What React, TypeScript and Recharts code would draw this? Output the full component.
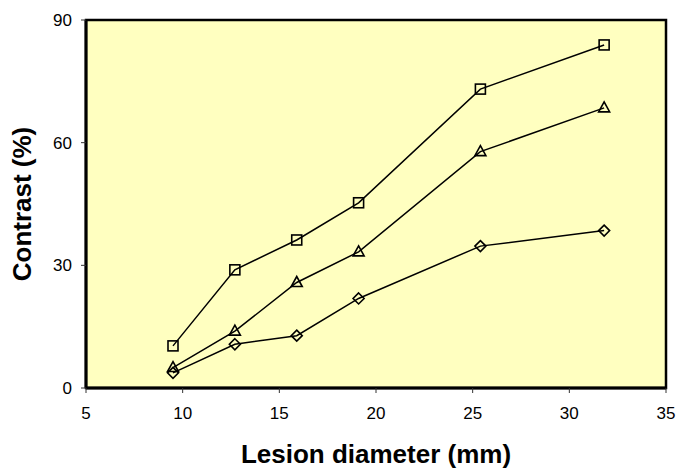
import { CartesianGrid, Line, LineChart, ReferenceArea, XAxis, YAxis } from 'recharts';

const diameters = [9.5, 12.7, 15.9, 19.1, 25.4, 31.8];
const squareSeries = [10.3, 28.9, 36.2, 45.3, 73.1, 83.9];
const triangleSeries = [5.0, 13.9, 25.8, 33.3, 57.8, 68.5];
const diamondSeries = [3.7, 10.7, 12.8, 21.9, 34.7, 38.5];
const xTicks = [5, 10, 15, 20, 25, 30, 35];
const yTicks = [0, 30, 60, 90];

const rows = diameters.map((d, i) => ({
  d,
  square: squareSeries[i],
  triangle: triangleSeries[i],
  diamond: diamondSeries[i],
}));

const font = '"Liberation Sans", Arial, sans-serif';

function SquareDot(props: any) {
  const { cx, cy, index } = props;
  if (cx == null || cy == null) return null;
  return <rect key={`s${index}`} x={cx - 5} y={cy - 5} width={10} height={10} fill="none" stroke="#000" strokeWidth={1.6} />;
}

function TriangleDot(props: any) {
  const { cx, cy, index } = props;
  if (cx == null || cy == null) return null;
  return <polygon key={`t${index}`} points={`${cx},${cy - 6} ${cx + 5.5},${cy + 4} ${cx - 5.5},${cy + 4}`} fill="none" stroke="#000" strokeWidth={1.6} />;
}

function DiamondDot(props: any) {
  const { cx, cy, index } = props;
  if (cx == null || cy == null) return null;
  return <polygon key={`d${index}`} points={`${cx},${cy - 5.5} ${cx + 5.5},${cy} ${cx},${cy + 5.5} ${cx - 5.5},${cy}`} fill="none" stroke="#000" strokeWidth={1.6} />;
}

export default function App() {
  const tick = { fill: '#000', fontFamily: font, fontSize: 17 };
  return (
    <div style={{ position: 'absolute', left: 0, top: 0 }}>
      <LineChart width={677} height={469} data={rows} margin={{ top: 20, right: 11, bottom: 0, left: 0 }}>
        <ReferenceArea x1={5} x2={35} y1={0} y2={90} fill="#FFFFC0" fillOpacity={1} stroke="#000" strokeWidth={2.5} />
        <CartesianGrid horizontal={false} vertical={false} />
        <XAxis
          dataKey="d"
          type="number"
          domain={[5, 35]}
          ticks={xTicks}
          height={81}
          tick={tick}
          tickSize={5}
          tickMargin={14}
          axisLine={{ stroke: '#000', strokeWidth: 3 }}
          tickLine={{ stroke: '#333', strokeWidth: 1 }}
          label={{
            content: (p: any) => {
              const vb = p.viewBox;
              return (
                <text x={vb.x + vb.width / 2} y={463} textAnchor="middle" fontFamily={font} fontWeight="bold" fontSize={26} fill="#000">
                  Lesion diameter (mm)
                </text>
              );
            },
          }}
        />
        <YAxis
          type="number"
          domain={[0, 90]}
          ticks={yTicks}
          width={86}
          tick={tick}
          tickSize={5}
          tickMargin={9}
          axisLine={{ stroke: '#000', strokeWidth: 3 }}
          tickLine={{ stroke: '#333', strokeWidth: 1 }}
          label={{
            content: (p: any) => {
              const vb = p.viewBox;
              const cy = vb.y + vb.height / 2;
              return (
                <text x={22} y={cy} transform={`rotate(-90, 22, ${cy})`} textAnchor="middle" dominantBaseline="central" fontFamily={font} fontWeight="bold" fontSize={26} fill="#000">
                  Contrast (%)
                </text>
              );
            },
          }}
        />
        <Line dataKey="square" stroke="#000" strokeWidth={1.5} dot={SquareDot} isAnimationActive={false} />
        <Line dataKey="triangle" stroke="#000" strokeWidth={1.5} dot={TriangleDot} isAnimationActive={false} />
        <Line dataKey="diamond" stroke="#000" strokeWidth={1.5} dot={DiamondDot} isAnimationActive={false} />
      </LineChart>
    </div>
  );
}
